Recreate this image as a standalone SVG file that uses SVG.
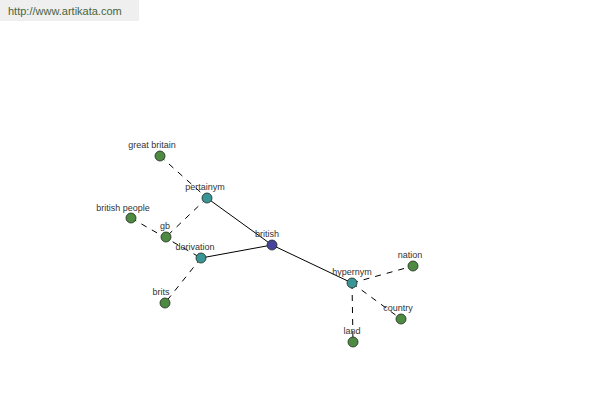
<svg xmlns="http://www.w3.org/2000/svg" width="600" height="400" viewBox="0 0 600 400">
<style>
.lbl{font-family:"Liberation Sans",Arial,sans-serif;font-size:9px;fill:#333;text-anchor:middle}
.e{stroke:#000;stroke-width:1;fill:none}
.d{stroke-dasharray:6,6}
.n{stroke:#1e2a1e;stroke-width:0.8}
.g{fill:#4e8a42}
.t{fill:#3a9696}
.b{fill:#45459e}
</style>
<rect width="600" height="400" fill="#fff"/>
<rect x="0" y="0" width="139" height="21" fill="#efefef"/>
<text x="8" y="15" style="font-family:'Liberation Sans',Arial,sans-serif;font-size:11px;fill:#4a6440">http://www.artikata.com</text>
<g id="connectors">
<line class="e d" x1="160" y1="156" x2="207" y2="198"/>
<line class="e d" x1="207" y1="198" x2="166" y2="237"/>
<line class="e d" x1="131" y1="218" x2="201" y2="258"/>
<line class="e d" x1="201" y1="258" x2="165" y2="303"/>
<line class="e" x1="207" y1="198" x2="272" y2="245"/>
<line class="e" x1="201" y1="258" x2="272" y2="245"/>
<line class="e" x1="272" y1="245" x2="352" y2="283"/>
<line class="e d" x1="352" y1="283" x2="413" y2="266"/>
<line class="e d" x1="352" y1="283" x2="401" y2="319"/>
<line class="e d" x1="352" y1="283" x2="353" y2="342"/>
</g>
<g id="great_britain"><circle class="n g" cx="160" cy="156" r="5"/><text class="lbl" x="152" y="148">great britain</text></g>
<g id="pertainym"><circle class="n t" cx="207" cy="198" r="5"/><text class="lbl" x="205" y="190">pertainym</text></g>
<g id="british_people"><circle class="n g" cx="131" cy="218" r="5"/><text class="lbl" x="123" y="211">british people</text></g>
<g id="gb"><circle class="n g" cx="166" cy="237" r="5"/><text class="lbl" x="165" y="229">gb</text></g>
<g id="derivation"><circle class="n t" cx="201" cy="258" r="5"/><text class="lbl" x="195" y="250">derivation</text></g>
<g id="british"><circle class="n b" cx="272" cy="245" r="5"/><text class="lbl" x="267" y="237">british</text></g>
<g id="hypernym"><circle class="n t" cx="352" cy="283" r="5"/><text class="lbl" x="352" y="275">hypernym</text></g>
<g id="nation"><circle class="n g" cx="413" cy="266" r="5"/><text class="lbl" x="410" y="258">nation</text></g>
<g id="country"><circle class="n g" cx="401" cy="319" r="5"/><text class="lbl" x="398" y="311">country</text></g>
<g id="land"><circle class="n g" cx="353" cy="342" r="5"/><text class="lbl" x="352" y="334">land</text></g>
<g id="brits"><circle class="n g" cx="165" cy="303" r="5"/><text class="lbl" x="161" y="295">brits</text></g>
</svg>
